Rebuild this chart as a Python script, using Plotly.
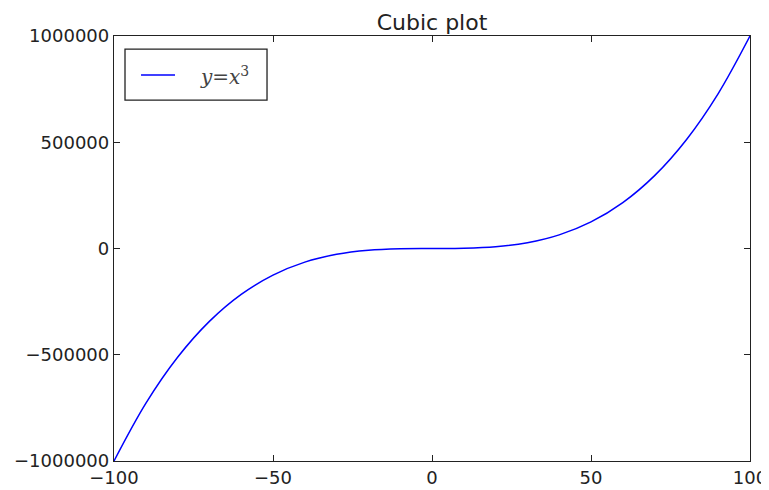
import plotly.graph_objects as go

x_vals = [-100, -90, -80, -70, -60, -50, -40, -30, -20, -10, 0,
          10, 20, 30, 40, 50, 60, 70, 80, 90, 100]
y_vals = [-1000000, -729000, -512000, -343000, -216000, -125000, -64000, -27000, -8000, -1000, 0,
          1000, 8000, 27000, 64000, 125000, 216000, 343000, 512000, 729000, 1000000]

x_ticks = [-100, -50, 0, 50, 100]
x_ticktext = ["\u2212100", "\u221250", "0", "50", "100"]
y_ticks = [-1000000, -500000, 0, 500000, 1000000]
y_ticktext = ["\u22121000000", "\u2212500000", "0", "500000", "1000000"]

title_text = "Cubic plot"
legend_label = "<i>y</i>=<i>x</i><sup>3</sup>"
line_color = "#0000ff"

fig = go.Figure()
fig.add_trace(go.Scatter(x=x_vals, y=y_vals, mode="lines",
                         line=dict(color=line_color, width=1.5, shape="spline"),
                         showlegend=False, hoverinfo="skip"))

axis_common = dict(showline=True, linecolor="#222222", linewidth=1.3, mirror="allticks",
                   ticks="inside", ticklen=6, tickcolor="#222222", tickwidth=1,
                   showgrid=False, zeroline=False, automargin=False,
                   tickfont=dict(family="DejaVu Sans", size=18, color="#222222"))

fig.update_xaxes(range=[-100, 100], tickvals=x_ticks, ticktext=x_ticktext, **axis_common)
fig.update_yaxes(range=[-1000000, 1000000], tickvals=y_ticks, ticktext=y_ticktext, **axis_common)

# manual legend box
fig.add_shape(type="rect", xref="paper", yref="paper",
              x0=0.0173, x1=0.2406, y0=0.849, y1=0.969,
              line=dict(color="#222222", width=1.3), fillcolor="white", layer="above")
fig.add_shape(type="line", xref="paper", yref="paper",
              x0=0.0425, x1=0.0959, y0=0.908, y1=0.908,
              line=dict(color=line_color, width=1.5), layer="above")
fig.add_annotation(xref="paper", yref="paper", x=0.132, y=0.905,
                   xanchor="left", yanchor="middle", showarrow=False,
                   text=legend_label,
                   font=dict(family="DejaVu Serif", size=20, color="#444444"))

fig.update_layout(
    template="none",
    width=761, height=482,
    margin=dict(l=106, r=19, t=28, b=29, autoexpand=False),
    paper_bgcolor="white", plot_bgcolor="white",
    title=dict(text=title_text, x=0.5, xref="paper", xanchor="center",
               y=1, yref="paper", yanchor="bottom", pad=dict(b=6),
               font=dict(family="DejaVu Sans", size=22, color="#222222")),
)

fig.write_html("out.html")
